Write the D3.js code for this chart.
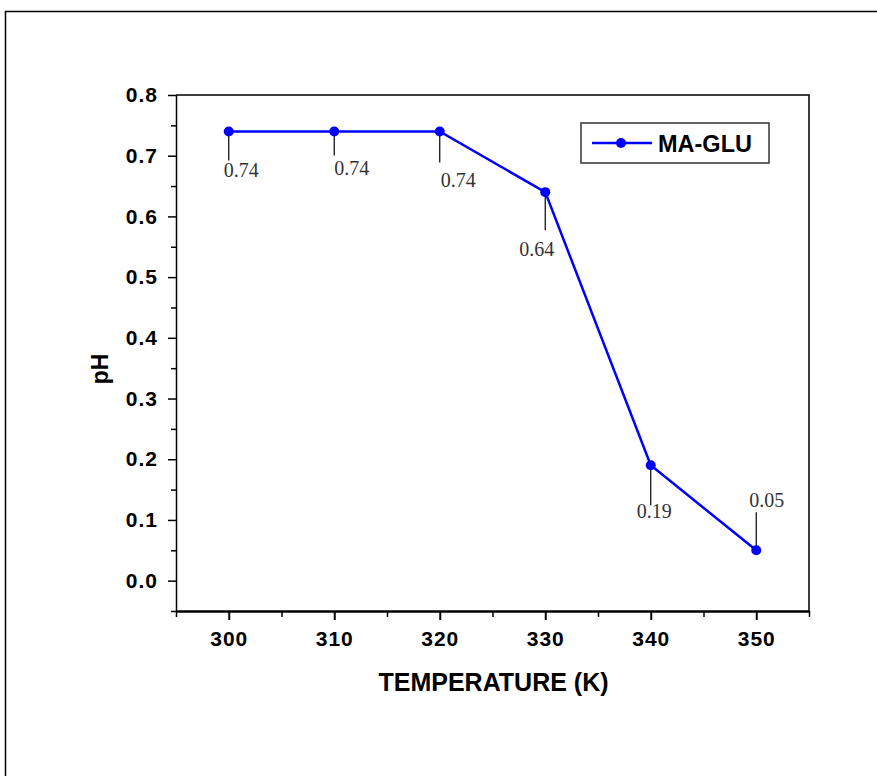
<!DOCTYPE html>
<html>
<head>
<meta charset="utf-8">
<script src="https://cdn.jsdelivr.net/npm/d3@7"></script>
<style>
  body { margin: 0; background: #fff; }
  svg { display: block; }
  .tick text { font-family: "Liberation Sans", Arial, sans-serif; font-weight: bold; font-size: 21px; letter-spacing: 1px; fill: #000; }
  .note { font-family: "Liberation Serif", "Times New Roman", serif; font-size: 20px; fill: #333; }
  .title { font-family: "Liberation Sans", Arial, sans-serif; font-weight: bold; font-size: 24px; }
</style>
</head>
<body>
<div id="chart"></div>
<script>
'use strict';

// data
const temperature = [300, 310, 320, 330, 340, 350];
const ph = [0.74, 0.74, 0.74, 0.64, 0.19, 0.05];
const labels = ['0.74', '0.74', '0.74', '0.64', '0.19', '0.05'];
const seriesName = 'MA-GLU';
const xTicks = [300, 310, 320, 330, 340, 350];
const yTicks = [0.0, 0.1, 0.2, 0.3, 0.4, 0.5, 0.6, 0.7, 0.8];

// leader line + label placement (dx, line end dy, label dy) per point
const notes = [
  { dx: -5, ly: 29, ty: 46 },
  { dx: 0, ly: 24, ty: 44 },
  { dx: 1, ly: 31, ty: 56 },
  { dx: -26, ly: 38, ty: 64 },
  { dx: -14, ly: 40, ty: 53 },
  { dx: -7, ly: -38, ty: -43 }
];

const width = 877, height = 776;
const margin = { left: 176, top: 95, right: 68, bottom: 166 };

const svg = d3.select('#chart').append('svg')
  .attr('width', width)
  .attr('height', height);

// outer frame (only top/left visible in the crop)
svg.append('rect')
  .attr('x', 5.5).attr('y', 11.5)
  .attr('width', width + 20).attr('height', height + 20)
  .attr('fill', 'none').attr('stroke', '#000').attr('stroke-width', 1.5);

const x = d3.scaleLinear().domain([295, 355]).range([margin.left, width - margin.right]);
const y = d3.scaleLinear().domain([-0.05, 0.8]).range([height - margin.bottom + 1, margin.top]);

const x0 = x.range()[0], x1 = x.range()[1];
const y0 = y.range()[0], y1 = y.range()[1];

// plot frame (top/right)
svg.append('path')
  .attr('d', `M${x0},${y1}H${x1}V${y0}`)
  .attr('fill', 'none').attr('stroke', '#000').attr('stroke-width', 1.5);

// minor ticks
const xMinor = d3.range(295, 356, 10);
const yMinor = d3.range(-0.05, 0.8, 0.1);

svg.append('g')
  .attr('transform', `translate(0,${y0})`)
  .call(d3.axisBottom(x).tickValues(xMinor).tickSize(6).tickFormat(''))
  .call(g => g.select('.domain').remove())
  .selectAll('line').attr('stroke-width', 1.5);

svg.append('g')
  .attr('transform', `translate(${x0},0)`)
  .call(d3.axisLeft(y).tickValues(yMinor).tickSize(5).tickFormat(''))
  .call(g => g.select('.domain').remove())
  .selectAll('line').attr('stroke-width', 1.5);

// major axes
const xAxis = svg.append('g')
  .attr('transform', `translate(0,${y0})`)
  .call(d3.axisBottom(x).tickValues(xTicks).tickSize(9).tickSizeOuter(0).tickPadding(11).tickFormat(d3.format('d')));
xAxis.select('.domain').attr('stroke-width', 2.5);
xAxis.selectAll('.tick line').attr('stroke-width', 2);

const yAxis = svg.append('g')
  .attr('transform', `translate(${x0},0)`)
  .call(d3.axisLeft(y).tickValues(yTicks).tickSize(8).tickSizeOuter(0).tickPadding(10).tickFormat(d3.format('.1f')));
yAxis.select('.domain').attr('stroke-width', 1.5);
yAxis.selectAll('.tick line').attr('stroke-width', 1.5);

// axis titles
svg.append('text')
  .attr('class', 'title')
  .attr('x', (x0 + x1) / 2 + 1).attr('y', 691)
  .attr('text-anchor', 'middle')
  .style('font-size', '25px')
  .text('TEMPERATURE (K)');

svg.append('text')
  .attr('class', 'title')
  .attr('transform', `translate(108,${(y0 + y1) / 2 + 16}) rotate(-90)`)
  .attr('text-anchor', 'middle')
  .style('font-size', '23px')
  .text('pH');

const pts = temperature.map((t, i) => ({ t, v: ph[i], label: labels[i], n: notes[i] }));

// series
svg.append('path')
  .datum(pts)
  .attr('d', d3.line().x(d => x(d.t)).y(d => y(d.v)))
  .attr('fill', 'none').attr('stroke', '#0000ff').attr('stroke-width', 2.5);

// leader lines
svg.append('g').selectAll('line')
  .data(pts).enter().append('line')
  .attr('x1', d => x(d.t)).attr('x2', d => x(d.t))
  .attr('y1', d => y(d.v)).attr('y2', d => y(d.v) + d.n.ly)
  .attr('stroke', '#000').attr('stroke-width', 1.2);

svg.append('g').selectAll('circle')
  .data(pts).enter().append('circle')
  .attr('cx', d => x(d.t)).attr('cy', d => y(d.v))
  .attr('r', 5).attr('fill', '#0000ff');

svg.append('g').selectAll('text')
  .data(pts).enter().append('text')
  .attr('class', 'note')
  .attr('x', d => x(d.t) + d.n.dx).attr('y', d => y(d.v) + d.n.ty)
  .text(d => d.label);

// legend
const legend = svg.append('g').attr('transform', 'translate(581,123)');
legend.append('rect')
  .attr('width', 188).attr('height', 40)
  .attr('fill', '#fff').attr('stroke', '#333').attr('stroke-width', 1.5);
legend.append('line')
  .attr('x1', 11).attr('x2', 71).attr('y1', 20).attr('y2', 20)
  .attr('stroke', '#0000ff').attr('stroke-width', 2.5);
legend.append('circle')
  .attr('cx', 40).attr('cy', 20).attr('r', 5).attr('fill', '#0000ff');
legend.append('text')
  .attr('class', 'title')
  .attr('x', 77).attr('y', 29)
  .style('font-size', '23.5px')
  .text(seriesName);
</script>
</body>
</html>
